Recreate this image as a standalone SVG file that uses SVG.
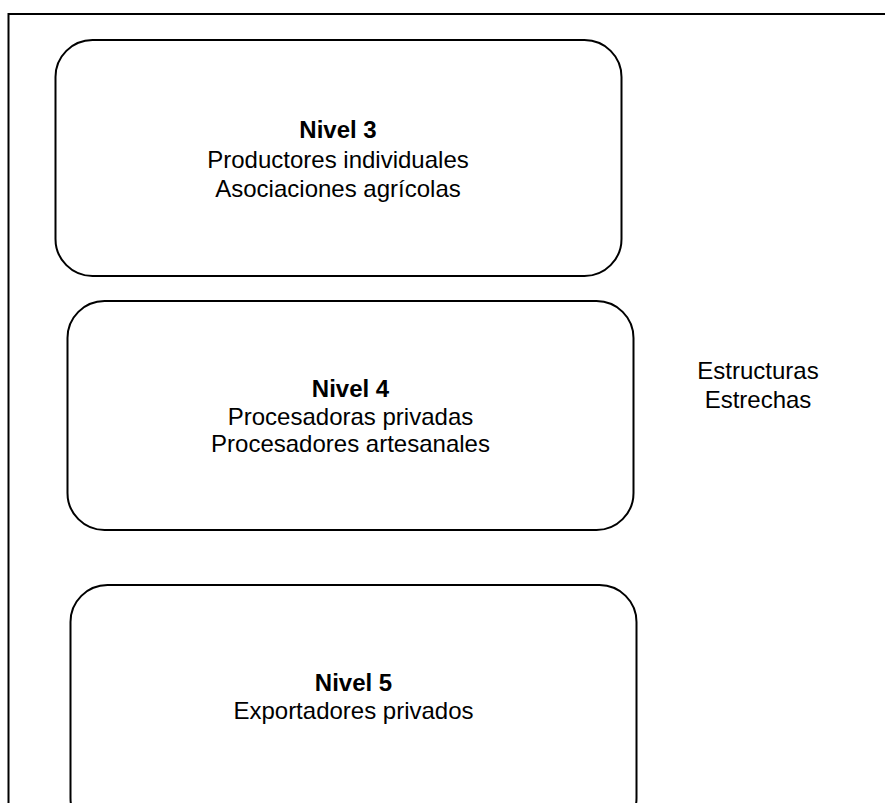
<svg xmlns="http://www.w3.org/2000/svg" width="885" height="803" viewBox="0 0 885 803">
<style>
.frame{fill:none;stroke:#000;stroke-width:2}
.box{fill:#fff;stroke:#000;stroke-width:2}
text{font-family:"Liberation Sans",Arial,sans-serif;font-size:24px;fill:#000;text-anchor:middle}
.b{font-weight:bold}
</style>
<rect width="885" height="803" fill="#fff"/>
<rect class="frame" x="8.5" y="14" width="900" height="820"/>
<g id="nivel3">
<rect class="box" x="55.5" y="40" width="566" height="236" rx="37" ry="37"/>
<text x="338" y="138" class="b">Nivel 3</text>
<text x="338" y="167.5">Productores individuales</text>
<text x="338" y="197">Asociaciones agrícolas</text>
</g>
<g id="nivel4">
<rect class="box" x="67.5" y="301" width="566" height="229" rx="37" ry="37"/>
<text x="350.5" y="397" class="b">Nivel 4</text>
<text x="350.5" y="424.5">Procesadoras privadas</text>
<text x="350.5" y="452">Procesadores artesanales</text>
</g>
<g id="nivel5">
<rect class="box" x="70.5" y="585" width="566" height="250" rx="37" ry="37"/>
<text x="353.5" y="691" class="b">Nivel 5</text>
<text x="353.5" y="719">Exportadores privados</text>
</g>
<g id="estructuras">
<text x="758" y="379">Estructuras</text>
<text x="758" y="407.5">Estrechas</text>
</g>
<g id="connectors"/>
</svg>
